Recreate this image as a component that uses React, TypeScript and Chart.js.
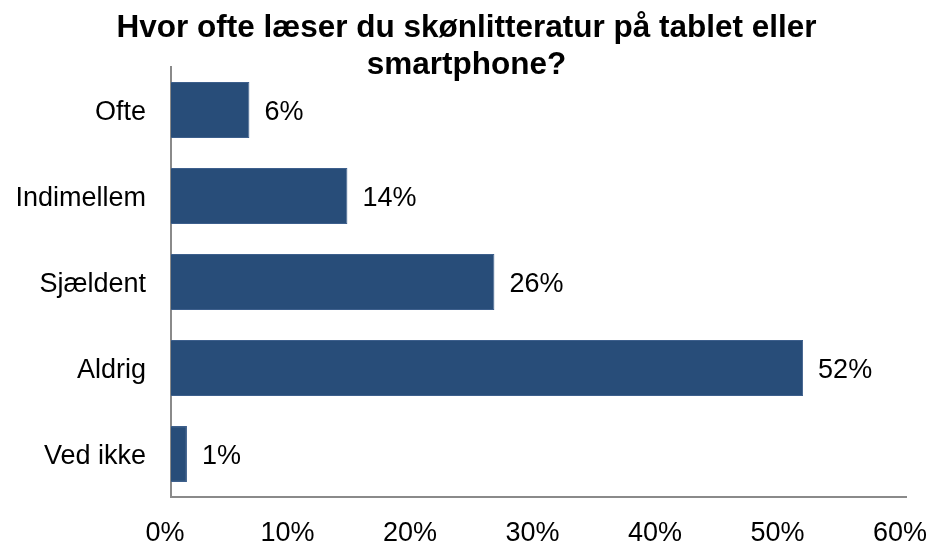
import React, { useEffect, useRef } from "react";
import { Chart, registerables } from "chart.js";

Chart.register(...registerables);

const categories = ["Ofte", "Indimellem", "Sjældent", "Aldrig", "Ved ikke"];
const values = [6.4, 14.4, 26.4, 51.6, 1.3];
const valueLabels = ["6%", "14%", "26%", "52%", "1%"];
const titleLines = ["Hvor ofte læser du skønlitteratur på tablet eller", "smartphone?"];
const xTickValues = [0, 10, 20, 30, 40, 50, 60];

const FONT = "'Liberation Sans', Arial, Helvetica, sans-serif";
const AXIS_COLOR = "#8a8a8a";
const LABEL_SIZE = 27;

const valueLabelPlugin = {
  id: "valueLabels",
  afterDatasetsDraw(chart: any) {
    const ctx = chart.ctx;
    const meta = chart.getDatasetMeta(0);
    ctx.save();
    ctx.font = `${LABEL_SIZE}px ${FONT}`;
    ctx.fillStyle = "#000";
    ctx.textAlign = "left";
    ctx.textBaseline = "middle";
    meta.data.forEach((bar: any, i: number) => {
      ctx.fillText(valueLabels[i], bar.x + 15, bar.y + 3);
    });
    ctx.restore();
  },
};

export default function App() {
  const ref = useRef<HTMLCanvasElement | null>(null);

  useEffect(() => {
    document.body.style.margin = "0";
    const canvas = ref.current;
    if (!canvas) return;
    const chart = new Chart(canvas, {
      type: "bar",
      data: {
        labels: categories,
        datasets: [
          {
            data: values,
            backgroundColor: "#284d79",
            borderColor: "#3d5f8c",
            borderWidth: 1,
            barPercentage: 0.65,
            categoryPercentage: 1,
          },
        ],
      },
      options: {
        indexAxis: "y",
        animation: false,
        responsive: false,
        devicePixelRatio: 1,
        layout: { padding: 0 },
        plugins: {
          legend: { display: false },
          tooltip: { enabled: false },
          title: {
            display: true,
            text: titleLines,
            color: "#000",
            font: { family: FONT, size: 31.5, weight: "bold", lineHeight: 1.18 },
            padding: { top: 10, bottom: -17.3 },
          },
        },
        scales: {
          x: {
            min: 0,
            max: 60,
            afterBuildTicks(scale: any) {
              scale.ticks = xTickValues.map((v) => ({ value: v }));
            },
            afterFit(scale: any) {
              scale.height = 47;
              scale.paddingLeft = 0;
              scale.paddingRight = 27;
            },
            grid: { display: false, drawTicks: false },
            border: { display: true, color: AXIS_COLOR, width: 2 },
            ticks: {
              color: "#000",
              font: { family: FONT, size: LABEL_SIZE },
              padding: 20,
              labelOffset: -6,
              maxRotation: 0,
              autoSkip: false,
              callback: (v: any) => `${v}%`,
            },
          },
          y: {
            afterFit(scale: any) {
              scale.width = 171;
            },
            grid: { display: false, drawTicks: false },
            border: { display: true, color: AXIS_COLOR, width: 2 },
            ticks: {
              color: "#000",
              font: { family: FONT, size: LABEL_SIZE },
              padding: 25,
              labelOffset: 3,
            },
          },
        },
      },
      plugins: [valueLabelPlugin],
    });
    return () => chart.destroy();
  }, []);

  return (
    <canvas
      ref={ref}
      width={933}
      height={544}
      style={{ position: "absolute", left: 0, top: 0, width: 933, height: 544 }}
    />
  );
}
